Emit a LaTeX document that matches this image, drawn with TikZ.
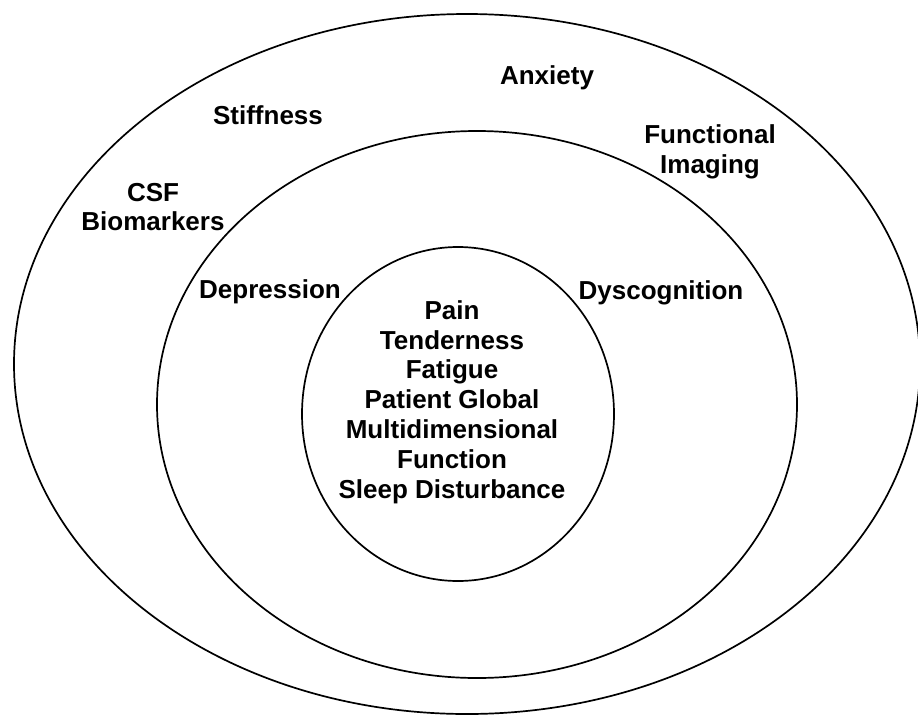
\documentclass[tikz,border=0pt]{standalone}
\usepackage{fontspec}
\setmainfont{Liberation Sans}
\usepackage{tikz}

\begin{document}
\begin{tikzpicture}[x=1pt, y=-1pt,
	ring/.style={line width=1.7pt},
	lbl/.style={font=\fontsize{26}{29.8}\selectfont\bfseries, align=center, inner sep=0pt}]
	\useasboundingbox (0,0) rectangle (918,715);
	\fill[white] (0,0) rectangle (918,715);
	% the three rings
	\draw[ring] (467,364) ellipse [x radius=453pt, y radius=350pt];
	\draw[ring] (477,404.5) ellipse [x radius=320pt, y radius=273.5pt];
	\draw[ring] (458,414) ellipse [x radius=156pt, y radius=167pt];
	% outer ring
	\node[lbl] (anxiety) at (547,78) {Anxiety};
	\node[lbl] (stiff) at (268,115) {Stiffness};
	\node[lbl] (imaging) at (710,152) {Functional\\Imaging};
	\node[lbl] (csf) at (153,207) {CSF\\Biomarkers};
	% middle ring
	\node[lbl] (depr) at (270,292) {Depression};
	\node[lbl] (dyscog) at (661,293) {Dyscognition};
	% core
	\node[lbl] (core) at (452,402) {Pain\\Tenderness\\Fatigue\\Patient Global\\Multidimensional\\Function\\Sleep Disturbance};
\end{tikzpicture}
\end{document}
